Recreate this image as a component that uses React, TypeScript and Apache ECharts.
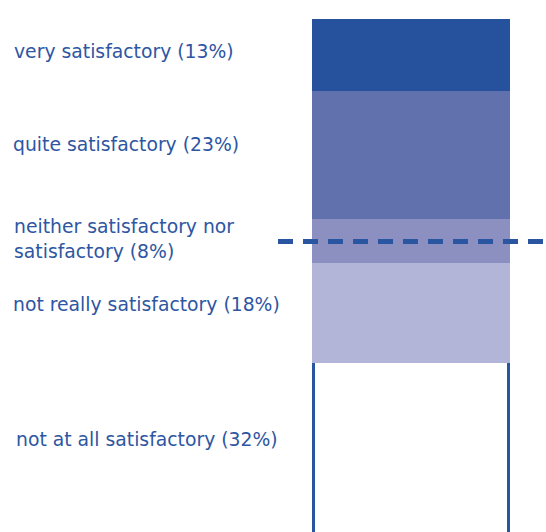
import React, { useEffect, useRef } from "react";
import * as echarts from "echarts";

const categories = [
  "very satisfactory",
  "quite satisfactory",
  "neither satisfactory nor\nsatisfactory",
  "not really satisfactory",
  "not at all satisfactory",
];
const values = [13, 23, 8, 18, 32];
const colors = ["#26519D", "#6171AE", "#8C90C1", "#B2B5D8", "#FFFFFF"];
const referenceLine = 40;

const TEXT_COLOR = "#2E56A2";
const LINE_COLOR = "#2A55A0";
const labelOffsets = [
  [-298, 32],
  [-299, 53],
  [-298, 20],
  [-299, 41],
  [-296, 76],
];

export default function App() {
  const ref = useRef<HTMLDivElement>(null);

  useEffect(() => {
    if (!ref.current) return;
    const chart = echarts.init(ref.current, undefined, { renderer: "svg" });

    const starts: number[] = [];
    let acc = 0;
    values.forEach((v) => {
      starts.push(acc);
      acc += v;
    });
    const lastIdx = values.length - 1;

    const barSeries = values.map((v, i) => ({
      type: "bar",
      name: categories[i],
      stack: "total",
      barWidth: "100%",
      data: [v],
      itemStyle: { color: colors[i] },
      label: {
        show: true,
        position: labelOffsets[i],
        align: "left",
        verticalAlign: "middle",
        color: TEXT_COLOR,
        fontFamily: "DejaVu Sans",
        fontSize: 18.8,
        lineHeight: 25,
        formatter: () => `${categories[i]} (${v}%)`,
      },
    }));

    const outlineSeries = {
      type: "custom",
      z: 5,
      data: [[0, starts[lastIdx], starts[lastIdx] + values[lastIdx]]],
      renderItem: (params: any, api: any) => {
        const top = api.coord([0, api.value(1)]);
        const bottom = api.coord([0, api.value(2)]);
        const w = api.size([1, 0])[0];
        const lx = top[0] - w / 2 + 1.5;
        const rx = top[0] + w / 2 - 1.5;
        const style = { stroke: LINE_COLOR, lineWidth: 3 };
        return {
          type: "group",
          children: [
            { type: "line", shape: { x1: lx, y1: top[1], x2: lx, y2: bottom[1] }, style },
            { type: "line", shape: { x1: rx, y1: top[1], x2: rx, y2: bottom[1] }, style },
          ],
        };
      },
    };

    const dashSeries = {
      type: "custom",
      z: 6,
      data: [[0, referenceLine]],
      renderItem: (params: any, api: any) => {
        const p = api.coord([0, api.value(1)]);
        const w = api.size([1, 0])[0];
        return {
          type: "line",
          shape: { x1: p[0] - w / 2 - 34, y1: p[1], x2: p[0] + w / 2 + 50, y2: p[1] },
          style: { stroke: LINE_COLOR, lineWidth: 5, lineDash: [15, 10] },
        };
      },
    };

    chart.setOption({
      animation: false,
      grid: { left: 312, width: 198, top: 19, height: 555, outerBoundsMode: "none", containLabel: false },
      xAxis: { type: "category", data: ["all"], show: false },
      yAxis: { type: "value", min: 0, max: 100, inverse: true, show: false },
      series: [...barSeries, outlineSeries, dashSeries],
    });

    return () => chart.dispose();
  }, []);

  return (
    <>
      <style>{`.crisp-chart path { shape-rendering: crispEdges; }`}</style>
      <div
        ref={ref}
        className="crisp-chart"
        style={{ position: "absolute", left: 0, top: 0, width: 546, height: 532, background: "#fff" }}
      />
    </>
  );
}
